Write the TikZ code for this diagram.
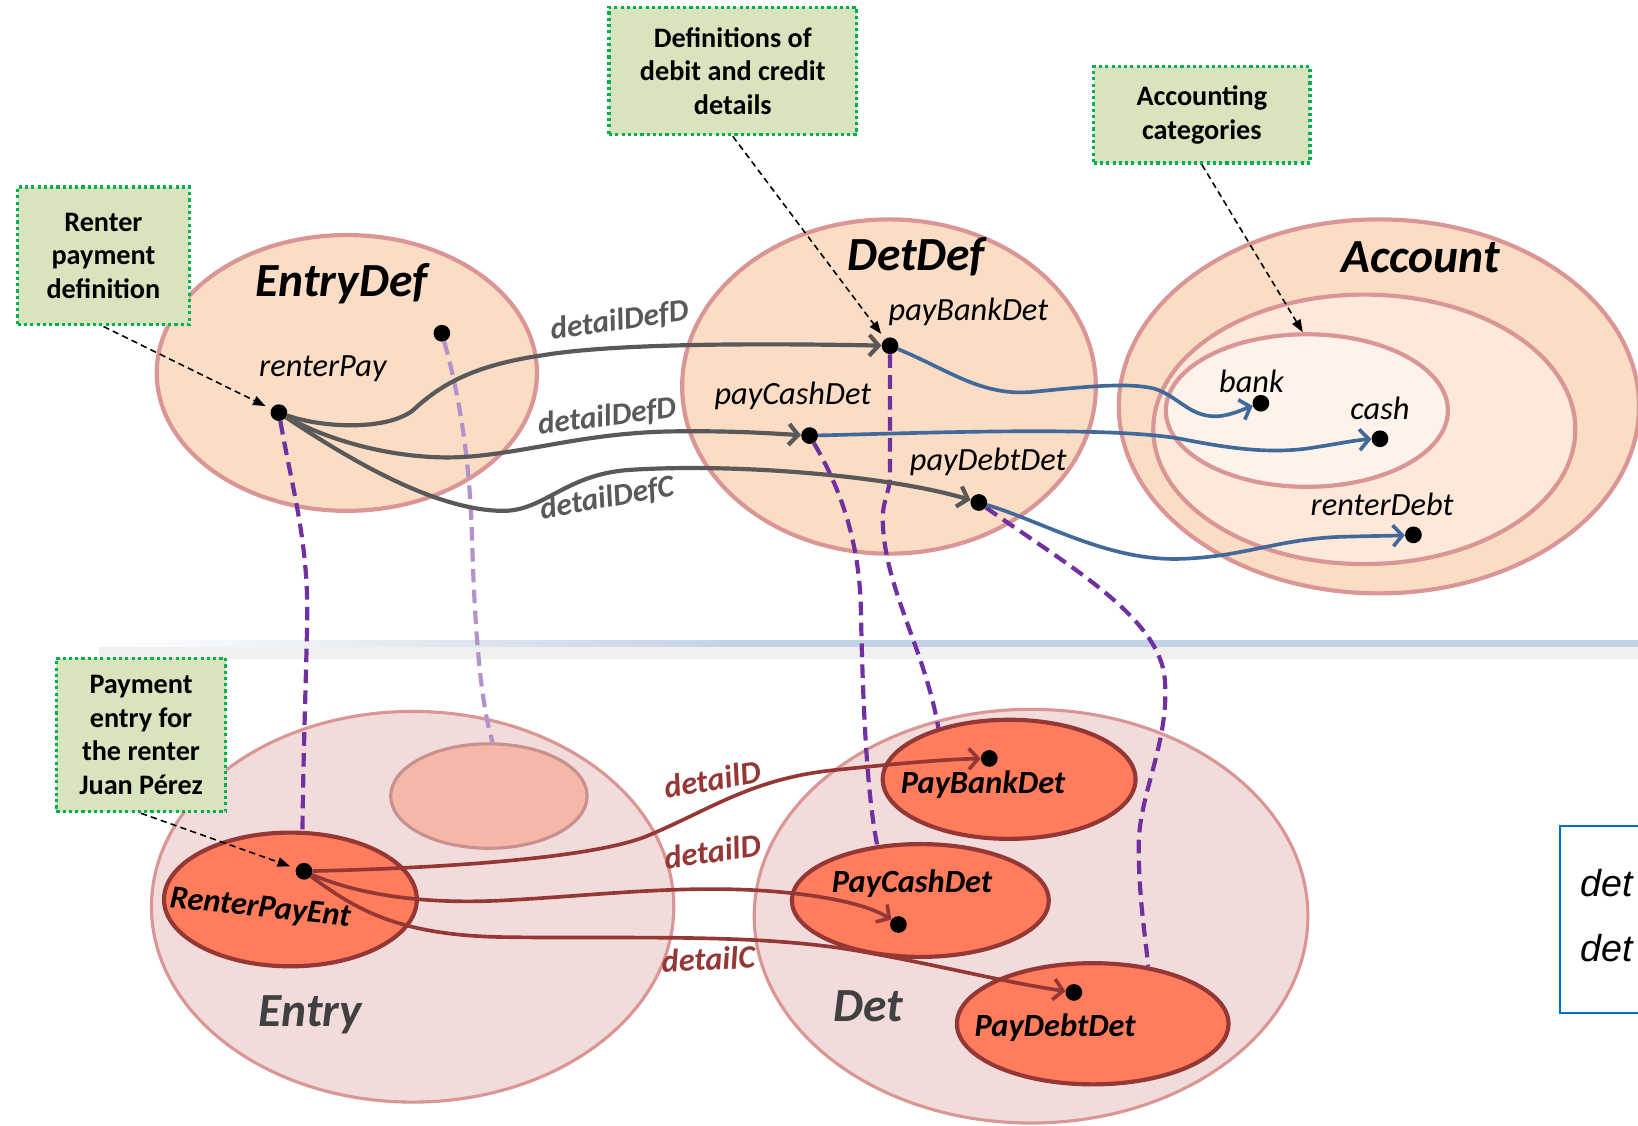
\documentclass[tikz,border=0pt]{standalone}
\usepackage{fontspec}
\setmainfont{Carlito}
\newfontfamily\arialf{Liberation Sans}
\usetikzlibrary{arrows.meta,shapes.geometric}
\definecolor{peach}{HTML}{FBDCC5}
\definecolor{peachM}{HTML}{FDE8D9}
\definecolor{peachL}{HTML}{FEF3EB}
\definecolor{rosy}{HTML}{D99694}
\definecolor{pinkbg}{HTML}{F2DCDB}
\definecolor{coral}{HTML}{FF7C5C}
\definecolor{darkred}{HTML}{953735}
\definecolor{ghostf}{HTML}{F5B7A8}
\definecolor{ghostb}{HTML}{C8908E}
\definecolor{gboxf}{HTML}{D7E4BD}
\definecolor{gboxb}{HTML}{00B050}
\definecolor{graycon}{HTML}{595959}
\definecolor{bluecon}{HTML}{41699A}
\definecolor{purp}{HTML}{7030A0}
\definecolor{lpurp}{HTML}{B392CC}
\definecolor{sepblue}{HTML}{C3D3E6}
\definecolor{boxblue}{HTML}{0070C0}
\definecolor{dgray}{HTML}{404040}
\begin{document}
\begin{tikzpicture}[x=1pt,y=-1pt,
  note/.style={draw=gboxb, fill=gboxf, line width=3pt, dash pattern=on 3pt off 3pt, align=center, inner sep=0pt, font=\fontsize{27}{32}\selectfont\bfseries},
  cont/.style={ellipse, draw=rosy, fill=peach, line width=4pt, inner sep=0pt},
  contB/.style={ellipse, draw=rosy, fill=pinkbg, line width=3pt, inner sep=0pt},
  inst/.style={ellipse, draw=darkred, fill=coral, line width=4pt, inner sep=0pt},
  dot/.style={circle, fill=black, inner sep=0pt, minimum size=16pt},
  titlef/.style={font=\fontsize{45.5}{52}\selectfont\bfseries\itshape, inner sep=0pt},
  lab/.style={font=\fontsize{31}{36}\selectfont\itshape, inner sep=0pt},
  ilab/.style={font=\fontsize{31}{36}\selectfont\bfseries\itshape, inner sep=0pt},
  elab/.style={font=\fontsize{30}{36}\selectfont\bfseries\itshape, text=graycon, inner sep=0pt},
  rlab/.style={font=\fontsize{31}{36}\selectfont\bfseries\itshape, text=darkred, inner sep=0pt},
  gcon/.style={draw=graycon, line width=4pt, -{Straight Barb[length=9pt,width=20pt]}},
  bcon/.style={draw=bluecon, line width=3.5pt, -{Straight Barb[length=9pt,width=20pt]}},
  rcon/.style={draw=darkred, line width=3.5pt, -{Straight Barb[length=9pt,width=20pt]}},
  pcon/.style={draw=purp, line width=4pt, dash pattern=on 13pt off 7pt},
  lpcon/.style={draw=lpurp, line width=4pt, dash pattern=on 13pt off 7pt},
  ann/.style={draw=black, line width=1.5pt, dash pattern=on 6pt off 4pt, -{Triangle[length=12pt,width=9pt]}}
]
\useasboundingbox (0,0) rectangle (1568,1077);
\begin{scope}
\clip (0,0) rectangle (1568,1077);
% separator
\fill[black!6] (95,619) rectangle (1568,631);
\shade[left color=white, right color=sepblue] (95,613) rectangle (700,619);
\fill[sepblue] (700,613) rectangle (1568,619);
% containers
\node[cont, minimum width=364pt, minimum height=264pt] (entrydef) at (332,357) {};
\node[cont, minimum width=396pt, minimum height=320pt] (detdef) at (851,370) {};
\node[cont, minimum width=498pt, minimum height=358pt] (acc) at (1320,389) {};
\node[cont, fill=peachM, minimum width=404pt, minimum height=258pt] (accm) at (1306,411) {};
\node[cont, fill=peachL, minimum width=270pt, minimum height=146pt] (acci) at (1251,393) {};
\node[contB, minimum width=500pt, minimum height=374pt] (entry) at (395,868) {};
\node[contB, minimum width=530pt, minimum height=396pt] (det) at (987,877) {};
\node[ellipse, draw=ghostb, fill=ghostf, line width=3pt, inner sep=0pt, minimum width=188pt, minimum height=100pt] (ghost) at (468,762) {};
\node[inst, minimum width=242pt, minimum height=128pt] (rpe) at (278,861) {};
\node[inst, minimum width=242pt, minimum height=114pt] (pbde) at (966,746) {};
\node[inst, minimum width=246pt, minimum height=108pt] (pcde) at (881,862) {};
\node[inst, minimum width=260pt, minimum height=116pt] (pdde) at (1046,980) {};
% right box
\draw[boxblue, line width=2pt] (1493,791) rectangle (1620,970);
\node[anchor=west, font=\fontsize{36}{40}\selectfont\arialf\itshape, inner sep=0pt] (d1) at (1513,845) {det};
\node[anchor=west, font=\fontsize{36}{40}\selectfont\arialf\itshape, inner sep=0pt] (d2) at (1513,908) {det};
\end{scope}
% titles
\node[titlef] (tEntryDef) at (327,272) {EntryDef};
\node[titlef] (tDetDef) at (877,246) {DetDef};
\node[titlef] (tAccount) at (1360,246) {Account};
\node[titlef, text=dgray] (tEntry) at (297,971) {Entry};
\node[titlef, text=dgray] (tDet) at (831,963) {Det};
% notes
\node[note, minimum width=237pt, minimum height=122pt] (ndef) at (701.5,68) {Definitions of\\debit and credit\\details};
\node[note, minimum width=207pt, minimum height=92pt] (nacc) at (1150.5,110) {Accounting\\categories};
\node[note, minimum width=164pt, minimum height=132pt] (nrent) at (99,245) {Renter\\payment\\definition};
\node[note, minimum width=162pt, minimum height=147pt] (npay) at (135,703.5) {Payment\\entry for\\the renter\\Juan Pérez};
% dots
\node[dot] (edd) at (423,319) {};
\node[dot] (rp) at (267,395) {};
\node[dot] (pbd) at (852,331) {};
\node[dot] (pcd) at (775,417) {};
\node[dot] (pdd) at (937,481) {};
\node[dot] (bank) at (1207,386) {};
\node[dot] (cash) at (1321,420) {};
\node[dot] (rd) at (1353,512) {};
\node[dot] (rped) at (291,834) {};
\node[dot] (pbdd) at (947,726) {};
\node[dot] (pcdd) at (860,885) {};
\node[dot] (pdtd) at (1028,950) {};
% labels
\node[lab] (lrp) at (309,353) {renterPay};
\node[lab] (lpbd) at (927,299) {payBankDet};
\node[lab] (lpcd) at (759,379) {payCashDet};
\node[lab] (lpdd) at (946,442) {payDebtDet};
\node[lab] (lbank) at (1198,365) {bank};
\node[lab] (lcash) at (1321,391) {cash};
\node[lab] (lrd) at (1323,483) {renterDebt};
\node[ilab] (lpbde) at (941,751) {PayBankDet};
\node[ilab] (lpcde) at (873,846) {PayCashDet};
\node[ilab] (lpdde) at (1010,984) {PayDebtDet};
\node[ilab, rotate=-6] (lrpe) at (249,870) {RenterPayEnt};
% purple dashed (instance-of)
\draw[lpcon] (edd) .. controls (440,380) and (450,440) .. (452,520) .. controls (455,620) and (462,680) .. (ghost.86);
\draw[pcon] (rp) .. controls (280,470) and (296,520) .. (294,600) .. controls (292,680) and (290,740) .. (rpe.80);
\draw[pcon] (pcd) .. controls (800,460) and (822,510) .. (824,580) .. controls (826,680) and (830,760) .. (pcde.128);
\draw[pcon] (pbd) -- (852,455) .. controls (852,470) and (845,480) .. (845,495) .. controls (845,560) and (885,620) .. (pbde.144);
\draw[pcon] (pdd) .. controls (1020,540) and (1110,590) .. (1115,650) .. controls (1120,710) and (1090,760) .. (1090,810) .. controls (1090,860) and (1097,900) .. (pdde.46);
% gray connectors
\draw[gcon] (rp) .. controls (310,410) and (370,412) .. (395,393) .. controls (420,370) and (450,350) .. (520,340) .. controls (580,330) and (700,328) .. (pbd);
\draw[gcon] (rp) .. controls (320,425) and (390,442) .. (450,437) .. controls (510,432) and (560,415) .. (640,413) .. controls (700,412) and (740,415) .. (pcd);
\draw[gcon] (rp) .. controls (320,430) and (410,488) .. (480,489) .. controls (520,490) and (540,455) .. (600,450) .. controls (700,443) and (850,455) .. (pdd);
\node[elab, rotate=8] (e1) at (593,307) {detailDefD};
\node[elab, rotate=7] (e2) at (581,399) {detailDefD};
\node[elab, rotate=10] (e3) at (581,477) {detailDefC};
% blue connectors
\draw[bcon] (pbd) .. controls (910,355) and (940,380) .. (990,375) .. controls (1040,370) and (1080,366) .. (1105,372) .. controls (1130,380) and (1140,402) .. (1170,398) .. controls (1182,396) and (1192,391) .. (bank);
\draw[bcon] (pcd) .. controls (900,414) and (1060,408) .. (1130,420) .. controls (1180,430) and (1220,435) .. (1260,428) .. controls (1285,424) and (1300,421) .. (cash);
\draw[bcon] (pdd) .. controls (1000,500) and (1060,537) .. (1130,535) .. controls (1190,533) and (1220,517) .. (1280,514) .. controls (1310,513) and (1330,513) .. (rd);
% dark red connectors
\draw[rcon] (rped) .. controls (380,832) and (560,825) .. (620,800) .. controls (680,775) and (720,745) .. (800,737) .. controls (860,731) and (900,727) .. (pbdd);
\draw[rcon] (rped) .. controls (340,855) and (400,866) .. (480,862) .. controls (560,858) and (640,848) .. (720,852) .. controls (780,855) and (830,865) .. (pcdd);
\draw[rcon] (rped) .. controls (340,870) and (380,895) .. (480,897) .. controls (600,899) and (720,893) .. (820,910) .. controls (900,924) and (960,940) .. (pdtd);
\node[rlab, rotate=10] (r1) at (682,746) {detailD};
\node[rlab, rotate=8] (r2) at (682,815) {detailD};
\node[rlab, rotate=3] (r3) at (678,918) {detailC};
% annotation arrows
\draw[ann, shorten >=6pt] (nrent.south) -- (rp);
\draw[ann, shorten >=6pt] (ndef.south) -- (pbd);
\draw[ann] (nacc.south) -- (acci.93);
\draw[ann, shorten >=6pt] (npay.south) -- (rped);
\end{tikzpicture}
\end{document}
